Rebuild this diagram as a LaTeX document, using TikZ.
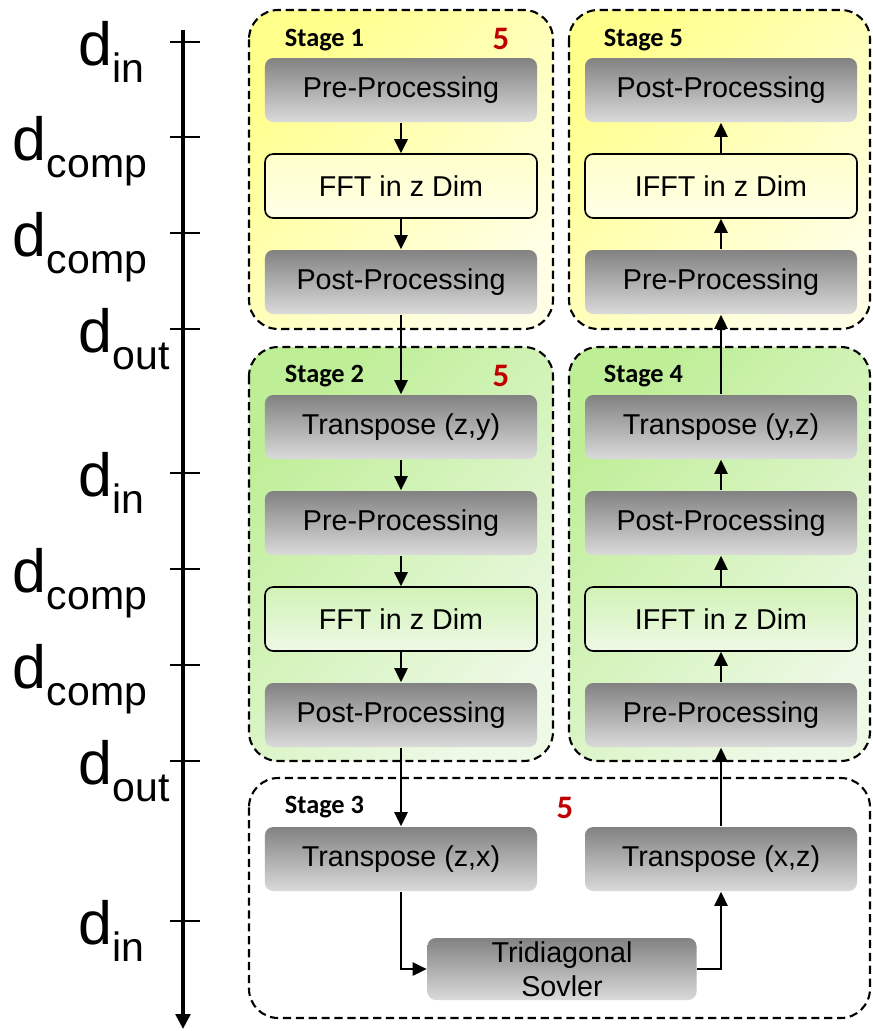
\documentclass[tikz,border=0pt]{standalone}
\usepackage{fontspec}
\setmainfont{Liberation Sans}
\newfontfamily\stagefont{Carlito}
\usetikzlibrary{arrows.meta}

\definecolor{boxtop}{RGB}{130,130,130}
\definecolor{boxbot}{RGB}{218,218,218}
\definecolor{yelA}{RGB}{255,255,140}
\definecolor{yelB}{RGB}{255,255,230}
\definecolor{grnA}{RGB}{190,238,150}
\definecolor{grnB}{RGB}{238,249,230}
\definecolor{countred}{RGB}{192,0,0}

\newcommand{\dlab}[1]{\fontsize{52}{52}\selectfont d\raisebox{-0.28em}{\fontsize{35}{35}\selectfont #1}}

\begin{document}
\begin{tikzpicture}[x=0.03cm, y=-0.03cm, line width=1.5pt,
  stageframe/.style={draw, dash pattern=on 7pt off 4pt, line width=1.8pt, rounded corners=25pt},
  yelstage/.style={stageframe, left color=yelA, right color=yelB, shading angle=45},
  grnstage/.style={stageframe, left color=grnA, right color=grnB, shading angle=45},
  procbox/.style={rounded corners=7pt, top color=boxtop, bottom color=boxbot,
    minimum width=8.16cm, minimum height=1.92cm, inner sep=0pt,
    font=\fontsize{24.5}{29}\selectfont},
  fftbox/.style={procbox, draw, line width=1.4pt},
  stagelbl/.style={anchor=west, inner sep=0pt, font=\stagefont\bfseries\fontsize{22.5}{22.5}\selectfont},
  countlbl/.style={inner sep=0pt, text=countred, font=\stagefont\bfseries\fontsize{28}{28}\selectfont},
  dlbl/.style={anchor=base west, inner sep=0pt},
  flow/.style={-{Triangle[length=4.2mm, width=4mm]}, line width=1.6pt}]
\useasboundingbox (0,0) rectangle (873,1031);

% time axis
\draw[line width=3pt, -{Triangle[length=4.5mm, width=4.4mm]}] (183,30) -- (183,1029);
\foreach \ty in {42,137,233,329,473,569,665,761,921}
  \draw[line width=1.6pt] (170,\ty) -- (200,\ty);
\node[dlbl] (tin1) at (78,65) {\dlab{in}};
\node[dlbl] (tcomp1) at (12,160) {\dlab{comp}};
\node[dlbl] (tcomp2) at (12,256) {\dlab{comp}};
\node[dlbl] (tout1) at (78,352) {\dlab{out}};
\node[dlbl] (tin2) at (78,496) {\dlab{in}};
\node[dlbl] (tcomp3) at (12,592) {\dlab{comp}};
\node[dlbl] (tcomp4) at (12,688) {\dlab{comp}};
\node[dlbl] (tout2) at (78,784) {\dlab{out}};
\node[dlbl] (tin3) at (78,944) {\dlab{in}};

% stage frames
\draw[yelstage] (249,10) rectangle (553,329);
\draw[yelstage] (569,10) rectangle (870,329);
\draw[grnstage] (249,347) rectangle (553,761);
\draw[grnstage] (569,347) rectangle (870,761);
\draw[stageframe, fill=white] (249,778) rectangle (870,1018);

\node[stagelbl] (lbl1) at (284,40) {Stage 1};
\node[stagelbl] (lbl5) at (603,40) {Stage 5};
\node[stagelbl] (lbl2) at (284,376) {Stage 2};
\node[stagelbl] (lbl4) at (603,376) {Stage 4};
\node[stagelbl] (lbl3) at (284,807) {Stage 3};
\node[countlbl] (cnt1) at (501,39) {5};
\node[countlbl] (cnt2) at (501,376) {5};
\node[countlbl] (cnt3) at (565,808) {5};

% stage 1
\node[procbox] (s1pre) at (401,90) {Pre-Processing};
\node[fftbox, top color=yelB!70!yelA, bottom color=yelB] (s1fft) at (401,186) {FFT in z Dim};
\node[procbox] (s1post) at (401,282) {Post-Processing};
% stage 2
\node[procbox] (s2tr) at (401,427) {Transpose (z,y)};
\node[procbox] (s2pre) at (401,523) {Pre-Processing};
\node[fftbox, top color=grnA!60!grnB, bottom color=grnB] (s2fft) at (401,619) {FFT in z Dim};
\node[procbox] (s2post) at (401,715) {Post-Processing};
% stage 3
\node[procbox] (s3trzx) at (401,859) {Transpose (z,x)};
\node[procbox, minimum width=8.07cm, minimum height=1.86cm, align=center] (s3tri) at (562,969) {Tridiagonal\\Sovler};
\node[procbox] (s3trxz) at (721,859) {Transpose (x,z)};
% stage 4
\node[procbox] (s4pre) at (721,715) {Pre-Processing};
\node[fftbox, top color=grnA!60!grnB, bottom color=grnB] (s4fft) at (721,619) {IFFT in z Dim};
\node[procbox] (s4post) at (721,523) {Post-Processing};
\node[procbox] (s4tr) at (721,427) {Transpose (y,z)};
% stage 5
\node[procbox] (s5pre) at (721,282) {Pre-Processing};
\node[fftbox, top color=yelB!70!yelA, bottom color=yelB] (s5fft) at (721,186) {IFFT in z Dim};
\node[procbox] (s5post) at (721,90) {Post-Processing};

% data flow
\draw[flow] (s1pre) -- (s1fft);
\draw[flow] (s1fft) -- (s1post);
\draw[flow] (s1post) -- (s2tr);
\draw[flow] (s2tr) -- (s2pre);
\draw[flow] (s2pre) -- (s2fft);
\draw[flow] (s2fft) -- (s2post);
\draw[flow] (s2post) -- (s3trzx);
\draw[flow] (s3trzx.south) |- (s3tri.west);
\draw[flow] (s3tri.east) -| (s3trxz.south);
\draw[flow] (s3trxz) -- (s4pre);
\draw[flow] (s4pre) -- (s4fft);
\draw[flow] (s4fft) -- (s4post);
\draw[flow] (s4post) -- (s4tr);
\draw[flow] (s4tr) -- (s5pre);
\draw[flow] (s5pre) -- (s5fft);
\draw[flow] (s5fft) -- (s5post);
\end{tikzpicture}
\end{document}
